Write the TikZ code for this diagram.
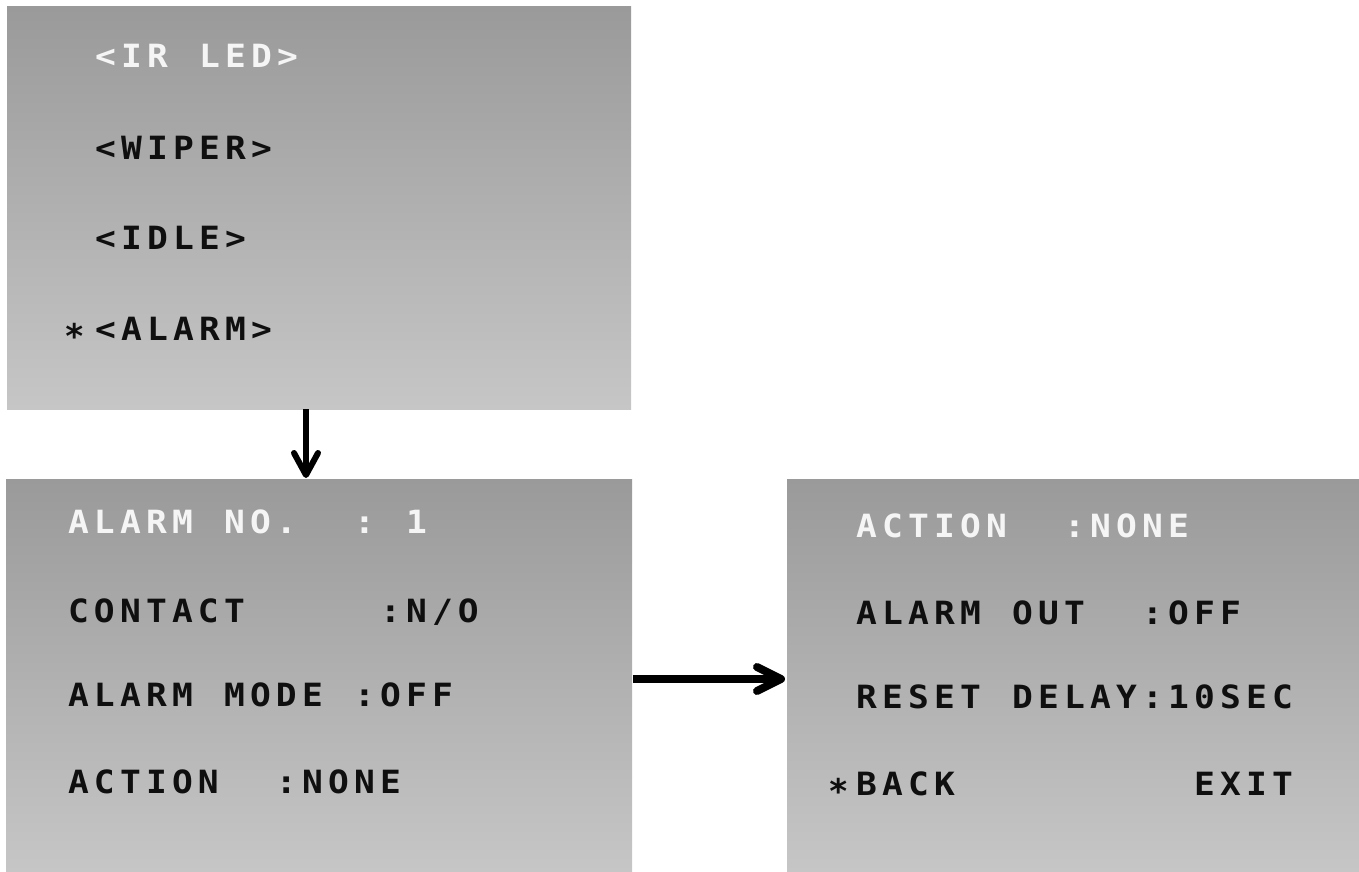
\documentclass[tikz,border=0pt]{standalone}
\usepackage{fontspec}
\usepackage{graphicx}
\usetikzlibrary{arrows.meta}
\newfontfamily\osdfont{DejaVu Sans Mono}
\newlength\osdpitch
\setlength\osdpitch{13pt}
\def\mono#1{\monoA#1\relax}
\def\monoA#1{\ifx#1\relax\else\makebox[\osdpitch][l]{\if_#1\else\scalebox{1.08}[1]{#1}\fi}\expandafter\monoA\fi}
\definecolor{paneltop}{RGB}{154,154,154}
\definecolor{panelbot}{RGB}{198,198,198}
\definecolor{osdwhite}{RGB}{245,245,245}
\definecolor{osdblack}{RGB}{15,15,15}
\tikzset{
  panel/.style={rectangle, inner sep=0pt, outer sep=0pt, anchor=north west,
    top color=paneltop, bottom color=panelbot, draw=none},
  txt/.style={inner sep=0pt, outer sep=0pt, anchor=base west,
    font=\osdfont\bfseries\fontsize{16pt}{16pt}\selectfont, text=osdblack},
  wtxt/.style={txt, text=osdwhite},
  star/.style={txt, font=\osdfont\bfseries\fontsize{17pt}{17pt}\selectfont},
  arr/.style={line width=3pt, -{Straight Barb[length=11pt,width=12pt,line width=3pt,round]}},
  arrh/.style={line width=4pt, -{Straight Barb[length=12pt,width=12pt,line width=4pt,round]}},
}
\begin{document}
\begin{tikzpicture}[x=0.5pt,y=-0.5pt]
\useasboundingbox (0,0) rectangle (1359,872);
% panels
\node[panel, minimum width=312pt, minimum height=201pt] (p1) at (7,7) {};
\node[panel, minimum width=313pt, minimum height=196.5pt] (p2) at (6,479) {};
\node[panel, minimum width=286pt, minimum height=196.5pt] (p3) at (787,479) {};
% top menu
\node[wtxt] (a1) at (95,68) {\mono{<IR_LED>}};
\node[txt] (a2) at (95,159) {\mono{<WIPER>}};
\node[txt] (a3) at (95,249) {\mono{<IDLE>}};
\node[star] (a4s) at (64,340) {\raisebox{-4pt}{*}};
\node[txt] (a4) at (95,340) {\mono{<ALARM>}};
% alarm menu
\node[wtxt] (b1) at (68,533) {\mono{ALARM_NO.__:_1}};
\node[txt] (b2) at (68,622) {\mono{CONTACT_____:N/O}};
\node[txt] (b3) at (68,706) {\mono{ALARM_MODE_:OFF}};
\node[txt] (b4) at (68,793) {\mono{ACTION__:NONE}};
% action menu
\node[wtxt] (c1) at (856,537) {\mono{ACTION__:NONE}};
\node[txt] (c2) at (856,624) {\mono{ALARM_OUT__:OFF}};
\node[txt] (c3) at (856,708) {\mono{RESET_DELAY:10SEC}};
\node[star] (c4s) at (828,795) {\raisebox{-4pt}{*}};
\node[txt] (c4) at (856,795) {\mono{BACK_________EXIT}};
% arrows
\coordinate (vx) at (306,0);
\coordinate (hy) at (0,679);
\draw[arrh] ([xshift=0.5pt]p2.east |- hy) -- ([xshift=-1pt]p3.west |- hy);
\draw[arr] (p1.south -| vx) -- ([yshift=0.5pt]p2.north -| vx);
\end{tikzpicture}
\end{document}
